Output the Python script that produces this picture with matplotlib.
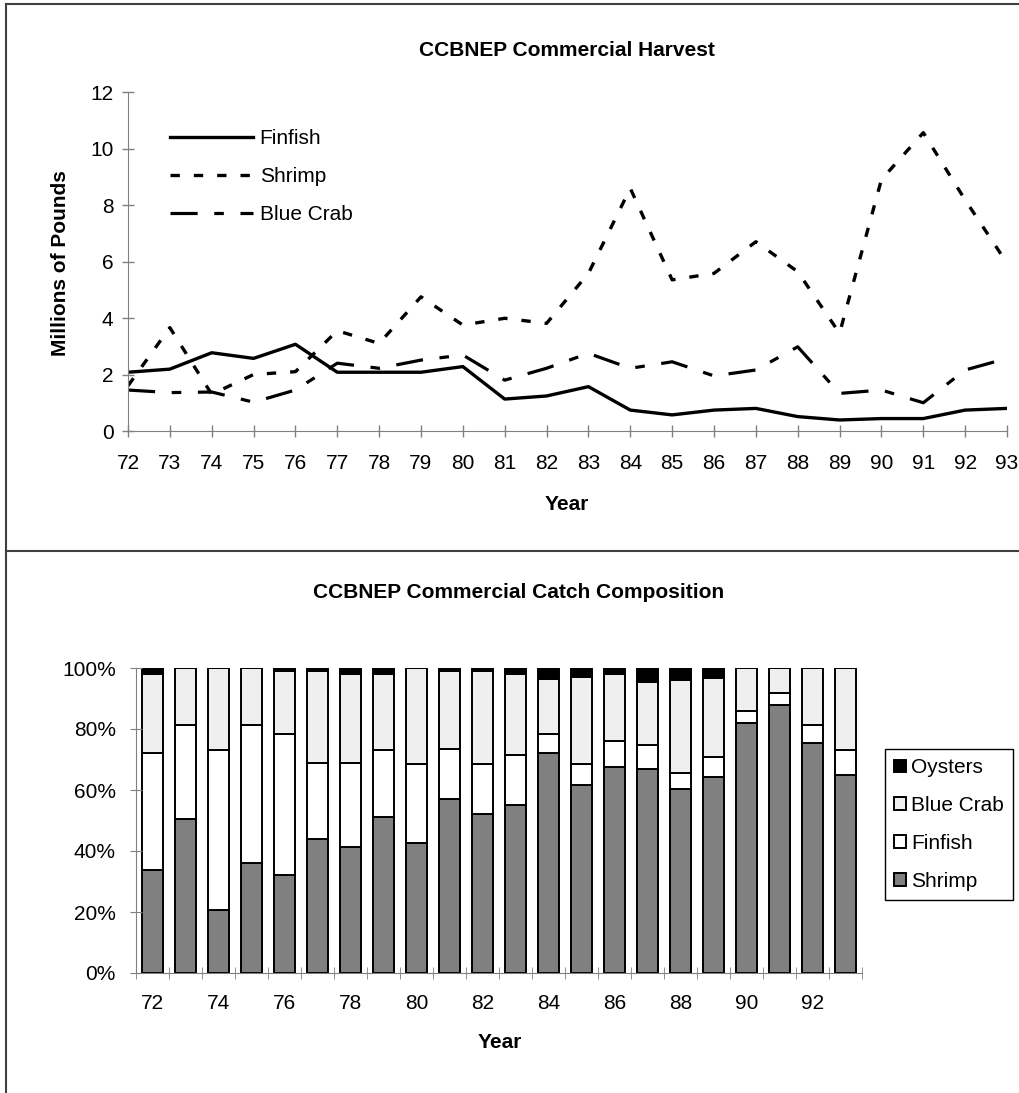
import matplotlib
matplotlib.use('Agg')
import matplotlib.pyplot as plt
from matplotlib.lines import Line2D
import numpy as np

plt.rcParams['font.family'] = ['Liberation Sans', 'DejaVu Sans']
plt.rcParams['font.size'] = 15

# ---- data ----
years = list(range(72, 94))

finfish = [2.08, 2.19, 2.77, 2.57, 3.07, 2.08, 2.08, 2.08, 2.28, 1.13, 1.24,
           1.57, 0.74, 0.57, 0.74, 0.80, 0.51, 0.39, 0.44, 0.44, 0.74, 0.80]
shrimp = [1.6, 3.66, 1.3, 2.0, 2.1, 3.55, 3.1, 4.75, 3.75, 3.99, 3.81,
          5.58, 8.59, 5.35, 5.58, 6.70, 5.64, 3.46, 8.9, 10.56, 8.18, 5.94]
blue_crab = [1.45, 1.36, 1.38, 1.02, 1.45, 2.40, 2.22, 2.51, 2.69, 1.80, 2.22,
             2.75, 2.22, 2.45, 1.95, 2.16, 2.98, 1.33, 1.45, 1.00, 2.16, 2.57]

# catch composition, percent of total
pct_shrimp = [33.8, 50.5, 20.6, 36.0, 32.0, 43.8, 41.4, 51.0, 42.7, 57.2, 52.1,
              55.2, 72.0, 61.6, 67.6, 66.9, 60.4, 64.4, 82.1, 87.9, 75.3, 64.9]
pct_finfish = [38.2, 30.8, 52.5, 45.3, 46.3, 25.2, 27.6, 22.1, 25.7, 16.4, 16.3,
               16.3, 6.3, 6.8, 8.6, 7.9, 5.2, 6.5, 3.8, 4.0, 6.0, 8.2]
pct_bluecrab = [26.0, 18.7, 26.9, 18.7, 20.8, 30.1, 29.0, 24.9, 31.6, 25.5, 30.7,
                26.5, 18.0, 28.5, 21.8, 20.7, 30.5, 25.9, 14.1, 8.1, 18.7, 26.9]
pct_oysters = [2.0, 0, 0, 0, 0.9, 0.9, 2.0, 2.0, 0, 0.9, 0.9,
               2.0, 3.7, 3.1, 2.0, 4.5, 3.9, 3.2, 0, 0, 0, 0]

W, H = 1019, 1093
fig = plt.figure(figsize=(W / 100, H / 100), dpi=100)


def rect(l, t, r, b):
    return [l / W, 1 - b / H, (r - l) / W, (b - t) / H]


def px(x, y):
    return x / W, 1 - y / H


axis_gray = '#808080'

# ---- top chart: harvest lines ----
ax1 = fig.add_axes(rect(128, 92, 1007, 431))
ax1.plot(years, finfish, color='black', lw=2.4, label='Finfish')
ax1.plot(years, shrimp, color='black', lw=2.4, linestyle=(0, (2.8, 4.2)), label='Shrimp')
ax1.plot(years, blue_crab, color='black', lw=2.3, linestyle=(0, (8.5, 5.2, 3, 5.2)),
         label='Blue Crab')
ax1.set_xlim(72, 93)
ax1.set_ylim(0, 12)
ax1.set_xticks(years)
ax1.set_xticklabels([str(y) for y in years])
ax1.set_yticks(range(0, 13, 2))
for s in ['top', 'right']:
    ax1.spines[s].set_visible(False)
for s in ['left', 'bottom']:
    ax1.spines[s].set_color(axis_gray)
ax1.tick_params(direction='inout', length=9, color=axis_gray, width=1)
ax1.tick_params(axis='x', pad=12)
ax1.tick_params(axis='y', pad=6)
ax1.legend(loc='upper left', bbox_to_anchor=px(170, 129), bbox_transform=fig.transFigure,
           frameon=False, handlelength=4.0, handletextpad=0.3, labelspacing=0.92,
           borderpad=0, borderaxespad=0)

fig.text(*px(567, 56), 'CCBNEP Commercial Harvest', ha='center', va='baseline',
         fontweight='bold', fontsize=15)
fig.text(*px(60, 263), 'Millions of Pounds', ha='center', va='center',
         rotation=90, fontweight='bold', fontsize=15)
fig.text(*px(567, 504), 'Year', ha='center', va='center', fontweight='bold', fontsize=15)

# ---- bottom chart: catch composition ----
ax2 = fig.add_axes(rect(136, 668, 862, 973))
x = np.array(years)
s = np.array(pct_shrimp)
f = np.array(pct_finfish)
b = np.array(pct_bluecrab)
o = np.array(pct_oysters)
bw = 0.62
ek = dict(edgecolor='black', linewidth=1.4)
b_sh = ax2.bar(x, s, bw, color='#808080', label='Shrimp', **ek)
b_ff = ax2.bar(x, f, bw, bottom=s, color='white', label='Finfish', **ek)
b_bc = ax2.bar(x, b, bw, bottom=s + f, color='#efefef', label='Blue Crab', **ek)
b_oy = ax2.bar(x, o, bw, bottom=s + f + b, color='black', label='Oysters', **ek)
ax2.set_xlim(71.5, 93.5)
ax2.set_ylim(0, 100)
ax2.set_yticks(range(0, 101, 20))
ax2.set_yticklabels([f'{v}%' for v in range(0, 101, 20)])
ax2.set_xticks(years[::2])
ax2.set_xticklabels([str(y) for y in years[::2]])
ax2.set_xticks(np.arange(71.5, 94, 1), minor=True)
for sp in ['top', 'right']:
    ax2.spines[sp].set_visible(False)
for sp in ['left', 'bottom']:
    ax2.spines[sp].set_color(axis_gray)
ax2.tick_params(axis='x', which='major', length=0, pad=15)
ax2.tick_params(axis='x', which='minor', direction='inout', length=9, color=axis_gray)
ax2.tick_params(axis='y', direction='inout', length=9, color=axis_gray, pad=10)

ax2.legend([b_oy, b_bc, b_ff, b_sh], ['Oysters', 'Blue Crab', 'Finfish', 'Shrimp'],
           loc='upper left', bbox_to_anchor=px(885, 749), bbox_transform=fig.transFigure,
           fancybox=False, edgecolor='black', framealpha=1,
           handlelength=0.55, handleheight=0.55, handletextpad=0.25,
           labelspacing=0.9, borderpad=0.45, borderaxespad=0)

fig.text(*px(519, 598), 'CCBNEP Commercial Catch Composition', ha='center',
         va='baseline', fontweight='bold', fontsize=15)
fig.text(*px(500, 1043), 'Year', ha='center', va='center', fontweight='bold', fontsize=15)

# ---- frame lines ----
lc = '#404040'
fig.add_artist(Line2D([6 / W, 6 / W], [1 - 4 / H, 0], color=lc, lw=1.5,
                      transform=fig.transFigure))
fig.add_artist(Line2D([6 / W, 1], [1 - 4 / H, 1 - 4 / H], color=lc, lw=1.5,
                      transform=fig.transFigure))
fig.add_artist(Line2D([6 / W, 1], [1 - 551 / H, 1 - 551 / H], color=lc, lw=1.5,
                      transform=fig.transFigure))

fig.savefig('out.png', dpi=100)
